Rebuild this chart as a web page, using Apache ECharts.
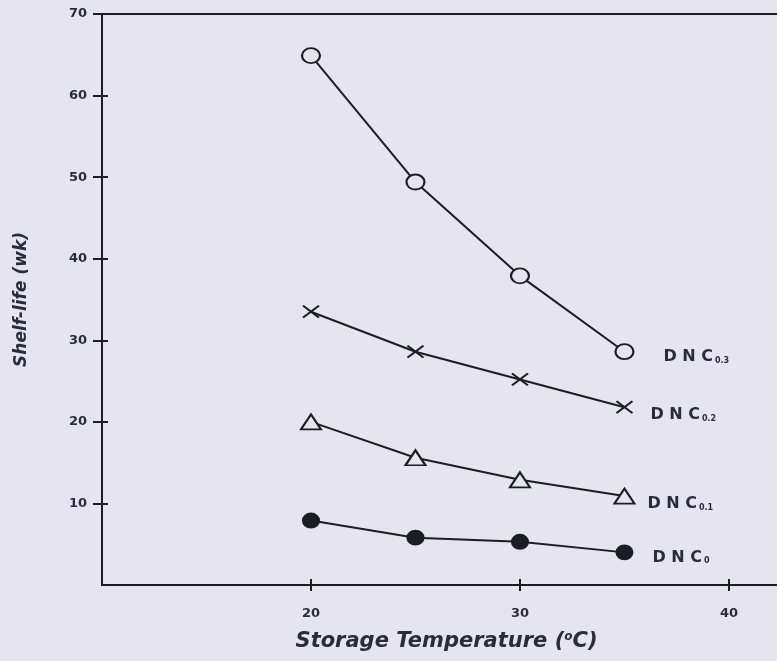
<!DOCTYPE html>
<html>
<head>
<meta charset="utf-8">
<script src="https://cdn.jsdelivr.net/npm/echarts@6/dist/echarts.min.js"></script>
<style>
html,body{margin:0;padding:0;background:#e6e5ef;}
#c{width:777px;height:661px;}
</style>
</head>
<body>
<div id="c"></div>
<script>
// Data
var temps = [20, 25, 30, 35];
var dnc03 = [64.9, 49.4, 37.9, 28.6];
var dnc02 = [33.5, 28.6, 25.2, 21.8];
var dnc01 = [20.0, 15.6, 12.9, 10.9];
var dnc00 = [7.9, 5.8, 5.3, 4.0];
var seriesNames = ['DNC0.3', 'DNC0.2', 'DNC0.1', 'DNC0'];
var subscripts = ['0.3', '0.2', '0.1', '0'];
var xTicks = [10, 20, 30, 40];
var yTicks = [0, 10, 20, 30, 40, 50, 60, 70];
var xMax = 42.3;

var ink = '#1c1c24';
var txt = '#2b2b3c';
var bg = '#e6e5ef';
var ff = 'DejaVu Sans';

function pairs(ys) { return temps.map(function (t, i) { return [t, ys[i]]; }); }

var labelRich = {
  m: { fontFamily: ff, fontWeight: 'bold', fontSize: 16, color: txt },
  s: { fontFamily: ff, fontWeight: 'bold', fontSize: 8, color: txt, verticalAlign: 'bottom', padding: [7, 0, 0, 2] }
};

function mkSeries(name, ys, symbol, size, fill, sub, dist, dy) {
  return {
    name: name,
    type: 'line',
    data: pairs(ys),
    symbol: symbol,
    symbolSize: size,
    showAllSymbol: true,
    lineStyle: { color: ink, width: 2 },
    itemStyle: { color: fill, borderColor: ink, borderWidth: 2 },
    endLabel: {
      show: true,
      distance: dist,
      offset: [0, dy],
      formatter: '{m|D N C}{s|' + sub + '}',
      rich: labelRich
    },
    z: 3
  };
}

var chart = echarts.init(document.getElementById('c'));
chart.setOption({
  animation: false,
  backgroundColor: bg,
  grid: { left: 102, top: 14, right: 0, height: 571, show: false },
  xAxis: [{
    type: 'value', min: xTicks[0], max: xMax, interval: 10,
    name: 'Storage Temperature ({sup|o}C)',
    nameLocation: 'middle', nameGap: 46,
    nameTextStyle: {
      fontFamily: ff, fontStyle: 'italic', fontWeight: 'bold', fontSize: 21, color: txt,
      padding: [0, 0, 0, 14],
      rich: { sup: { fontSize: 12, fontWeight: 'bold', verticalAlign: 'top', color: txt, fontFamily: ff } }
    },
    axisLine: { show: true, lineStyle: { color: ink, width: 2 } },
    axisTick: { show: true, length: 6, customValues: xTicks, lineStyle: { color: ink, width: 2 } },
    axisLabel: { showMinLabel: false, showMaxLabel: false, margin: 22, fontFamily: ff, fontWeight: 'bold', fontSize: 13, color: txt },
    splitLine: { show: false }
  }, {
    type: 'value', min: xTicks[0], max: xMax, interval: 10, position: 'bottom',
    axisLine: { show: false },
    axisTick: { show: true, inside: true, length: 6, customValues: xTicks, lineStyle: { color: ink, width: 2 } },
    axisLabel: { show: false }, splitLine: { show: false }
  }, {
    type: 'value', min: xTicks[0], max: xMax, interval: 10, position: 'top',
    axisLine: { show: true, lineStyle: { color: ink, width: 2 } },
    axisTick: { show: false }, axisLabel: { show: false }, splitLine: { show: false }
  }],
  yAxis: [{
    type: 'value', min: yTicks[0], max: yTicks[yTicks.length - 1], interval: 10,
    name: 'Shelf-life (wk)',
    nameLocation: 'middle', nameGap: 72,
    nameTextStyle: { fontFamily: ff, fontStyle: 'italic', fontWeight: 'bold', fontSize: 17, color: txt },
    axisLine: { show: true, lineStyle: { color: ink, width: 2 } },
    axisTick: { show: true, length: 9, lineStyle: { color: ink, width: 2 } },
    axisLabel: { showMinLabel: false, margin: 15, fontFamily: ff, fontWeight: 'bold', fontSize: 13, color: txt },
    splitLine: { show: false }
  }, {
    type: 'value', min: yTicks[0], max: yTicks[yTicks.length - 1], interval: 10, position: 'left',
    axisLine: { show: false },
    axisTick: { show: true, inside: true, length: 6, lineStyle: { color: ink, width: 2 } },
    axisLabel: { show: false }, splitLine: { show: false }
  }],
  series: [
    mkSeries(seriesNames[0], dnc03, 'circle', [18, 15], bg, subscripts[0], 39, 5),
    mkSeries(seriesNames[1], dnc02, 'path://M0,0L16,12M16,0L0,12', [16, 12], 'transparent', subscripts[1], 26, 8),
    mkSeries(seriesNames[2], dnc01, 'triangle', [20, 15], bg, subscripts[2], 23, 8),
    mkSeries(seriesNames[3], dnc00, 'circle', [16, 14], ink, subscripts[3], 28, 5)
  ]
});
</script>
</body>
</html>
